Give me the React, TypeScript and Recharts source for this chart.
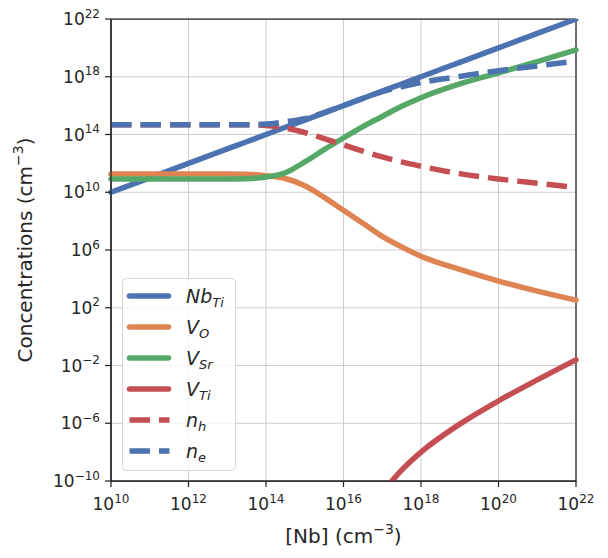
import {
  LineChart,
  Line,
  XAxis,
  YAxis,
  CartesianGrid,
  Legend,
  Label,
  ReferenceArea,
} from "recharts";

// log10 of [Nb] (cm^-3) along the x axis
const nbExp = [10, 11, 12, 13, 13.5, 14, 14.5, 15, 15.5, 16, 16.5, 17, 17.5, 18, 19, 20, 21, 22];

// log10 of each defect / carrier concentration (cm^-3)
const nbTi = [10, 11, 12, 13, 13.5, 14, 14.5, 15, 15.5, 16, 16.5, 17, 17.5, 18, 19, 20, 21, 22];
const vO = [11.27, 11.27, 11.27, 11.27, 11.25, 11.15, 10.95, 10.45, 9.65, 8.75, 7.85, 6.95, 6.22, 5.57, 4.65, 3.85, 3.15, 2.53];
const vSr = [10.92, 10.92, 10.92, 10.92, 10.94, 11.05, 11.35, 12.1, 12.95, 13.76, 14.55, 15.25, 15.95, 16.55, 17.5, 18.27, 19.05, 19.86];
const vTi = [null, null, null, null, null, null, null, null, null, null, null, -10.8, -9.25, -8.0, -6.06, -4.45, -3.0, -1.61];
const nH = [14.67, 14.67, 14.67, 14.67, 14.67, 14.63, 14.45, 14.14, 13.72, 13.29, 12.85, 12.45, 12.1, 11.8, 11.29, 10.92, 10.62, 10.33];
const nE = [14.67, 14.67, 14.67, 14.67, 14.68, 14.72, 14.88, 15.1, 15.52, 16.0, 16.5, 16.97, 17.3, 17.6, 18.02, 18.42, 18.75, 19.08];

const xTicks = [10, 12, 14, 16, 18, 20, 22];
const yTicks = [-10, -6, -2, 2, 6, 10, 14, 18, 22];

const BLUE = "#4C72B0";
const ORANGE = "#DD8452";
const GREEN = "#55A868";
const RED = "#C44E52";
const INK = "#262626";
const FONT = "DejaVu Sans";
const DASH = "20.5 9";

const data = nbExp.map((x, i) => ({
  x,
  nbTi: nbTi[i],
  vO: vO[i],
  vSr: vSr[i],
  vTi: vTi[i],
  nH: nH[i],
  nE: nE[i],
}));

const legendItems = [
  { base: "Nb", sub: "Ti", color: BLUE, dashed: false },
  { base: "V", sub: "O", color: ORANGE, dashed: false },
  { base: "V", sub: "Sr", color: GREEN, dashed: false },
  { base: "V", sub: "Ti", color: RED, dashed: false },
  { base: "n", sub: "h", color: RED, dashed: true },
  { base: "n", sub: "e", color: BLUE, dashed: true },
];

const expText = (v: number) => (v < 0 ? "\u2212" + Math.abs(v) : String(v));

const XTick = (props: any) => {
  const { x, y, payload } = props;
  return (
    <text x={x} y={y + 21} textAnchor="middle" fontFamily={FONT} fontSize={17} fill={INK}>
      <tspan>10</tspan>
      <tspan dy={-7.5} fontSize={12}>{expText(payload.value)}</tspan>
    </text>
  );
};

const YTick = (props: any) => {
  const { x, y, payload } = props;
  return (
    <text x={x - 3} y={y + 6} textAnchor="end" fontFamily={FONT} fontSize={17} fill={INK}>
      <tspan>10</tspan>
      <tspan dy={-7.5} fontSize={12}>{expText(payload.value)}</tspan>
    </text>
  );
};

const XTitle = (props: any) => {
  const vb = props.viewBox;
  return (
    <text x={vb.x + vb.width / 2} y={vb.y + 62} textAnchor="middle" fontFamily={FONT} fontSize={20} fill={INK}>
      <tspan>[Nb] (cm</tspan>
      <tspan dy={-9} fontSize={14}>{"\u22123"}</tspan>
      <tspan dy={9}>)</tspan>
    </text>
  );
};

const YTitle = (props: any) => {
  const vb = props.viewBox;
  const cy = vb.y + vb.height / 2;
  return (
    <text
      x={32}
      y={cy}
      transform={`rotate(-90, 32, ${cy})`}
      textAnchor="middle"
      fontFamily={FONT}
      fontSize={20}
      fill={INK}
    >
      <tspan>Concentrations (cm</tspan>
      <tspan dy={-9} fontSize={14}>{"\u22123"}</tspan>
      <tspan dy={9}>)</tspan>
    </text>
  );
};

const renderLegend = () => (
  <svg width={114} height={193} style={{ display: "block" }}>
    <rect x={0.5} y={0.5} width={113} height={192} rx={4} fill="rgba(255,255,255,0.8)" stroke="#d6d6d6" />
    {legendItems.map((item, i) => {
      const cy = 18 + i * 31;
      return (
        <g key={i}>
          <line
            x1={7.5}
            x2={item.dashed ? 47.5 : 46.5}
            y1={cy}
            y2={cy}
            stroke={item.color}
            strokeWidth={5.5}
            strokeLinecap={item.dashed ? "butt" : "round"}
            strokeDasharray={item.dashed ? DASH : undefined}
          />
          <text x={64} y={cy + 7} fontFamily={FONT} fontStyle="italic" fontSize={19} fill={INK}>
            <tspan>{item.base}</tspan>
            <tspan dy={4} fontSize={13}>{item.sub}</tspan>
          </text>
        </g>
      );
    })}
  </svg>
);

export default function App() {
  return (
    <div style={{ position: "absolute", left: 0, top: 0, width: 608, height: 558, background: "#fff" }}>
      <LineChart width={608} height={558} data={data} margin={{ top: 19, right: 32, bottom: 0, left: 0 }}>
        <CartesianGrid stroke="#cccccc" strokeWidth={1} />
        <XAxis
          dataKey="x"
          type="number"
          domain={[10, 22]}
          ticks={xTicks}
          height={77}
          tick={<XTick />}
          tickSize={6}
          tickLine={{ stroke: INK, strokeWidth: 1.25 }}
          axisLine={{ stroke: INK, strokeWidth: 1.25 }}
          interval={0}
        >
          <Label content={<XTitle />} />
        </XAxis>
        <YAxis
          type="number"
          domain={[-10, 22]}
          ticks={yTicks}
          width={111}
          allowDataOverflow
          tick={<YTick />}
          tickSize={6}
          tickLine={{ stroke: INK, strokeWidth: 1.25 }}
          axisLine={{ stroke: INK, strokeWidth: 1.25 }}
          interval={0}
        >
          <Label content={<YTitle />} />
        </YAxis>
        <Line dataKey="nbTi" type="monotone" stroke={BLUE} strokeWidth={5.5} strokeLinecap="round" dot={false} isAnimationActive={false} />
        <Line dataKey="vO" type="monotone" stroke={ORANGE} strokeWidth={5.5} strokeLinecap="round" dot={false} isAnimationActive={false} />
        <Line dataKey="vSr" type="monotone" stroke={GREEN} strokeWidth={5.5} strokeLinecap="round" dot={false} isAnimationActive={false} />
        <Line dataKey="vTi" type="monotone" stroke={RED} strokeWidth={5.5} strokeLinecap="round" dot={false} isAnimationActive={false} />
        <Line dataKey="nH" type="monotone" stroke={RED} strokeWidth={5.5} strokeDasharray={DASH} dot={false} isAnimationActive={false} />
        <Line dataKey="nE" type="monotone" stroke={BLUE} strokeWidth={5.5} strokeDasharray={DASH} dot={false} isAnimationActive={false} />
        <ReferenceArea x1={10} x2={22} y1={-10} y2={22} fill="none" stroke={INK} strokeWidth={1.25} ifOverflow="visible" />
        <Legend
          layout="vertical"
          align="center"
          verticalAlign="middle"
          content={renderLegend}
          wrapperStyle={{ left: 122, top: 278, width: 114, height: 193 }}
        />
      </LineChart>
    </div>
  );
}
